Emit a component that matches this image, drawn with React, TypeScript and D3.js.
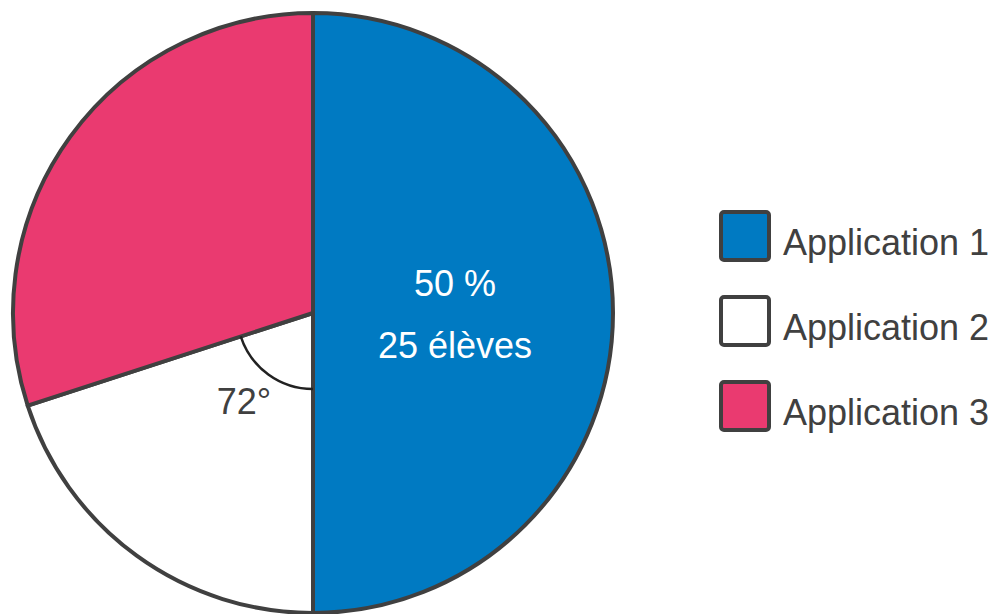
import React from "react";
import * as d3 from "d3";

const categories = ["Application 1", "Application 2", "Application 3"];
const students = [25, 10, 15];
const colors = ["#007AC2", "#FFFFFF", "#EA3A70"];
const sliceLabel = ["50 %", "25 élèves"];
const angleLabel = "72°";

export default function App() {
  const W = 1001, H = 614;
  const cx = 313, cy = 313, R = 300;
  const pie = d3.pie<number>().sort(null).value((d) => d).startAngle(0).endAngle(2 * Math.PI);
  const arcs = pie(students);
  const arcGen = d3.arc<d3.PieArcDatum<number>>().innerRadius(0).outerRadius(R);
  const white = arcs[1];
  const angleArc = d3.arc()({ innerRadius: 76, outerRadius: 76, startAngle: white.startAngle, endAngle: white.endAngle } as any) || "";
  const stroke = "#404040";
  const legendY = d3.scaleBand<string>().domain(categories).range([211, 466]);
  return (
    <svg width={W} height={H} style={{ position: "absolute", left: 0, top: 0 }} fontFamily="'Liberation Sans', Arial, sans-serif">
      <g transform={`translate(${cx},${cy})`}>
        {arcs.map((a, i) => (
          <path key={i} d={arcGen(a) || ""} fill={colors[i]} stroke={stroke} strokeWidth={4} strokeLinejoin="round" />
        ))}
        <path d={angleArc} fill="none" stroke="#222" strokeWidth={2.5} />
        <text x={142} y={-17} fill="#fff" fontSize={36} textAnchor="middle">{sliceLabel[0]}</text>
        <text x={142} y={45} fill="#fff" fontSize={36} textAnchor="middle">{sliceLabel[1]}</text>
        <text x={-69} y={101} fill={stroke} fontSize={36} textAnchor="middle">{angleLabel}</text>
      </g>
      {categories.map((c, i) => {
        const y = legendY(c)!;
        return (
          <g key={c}>
            <rect x={721} y={y + 1} width={48} height={48} rx={3} fill={colors[i]} stroke={stroke} strokeWidth={4} />
            <text x={783} y={y + 44} fontSize={36} fill={stroke}>{c}</text>
          </g>
        );
      })}
    </svg>
  );
}
